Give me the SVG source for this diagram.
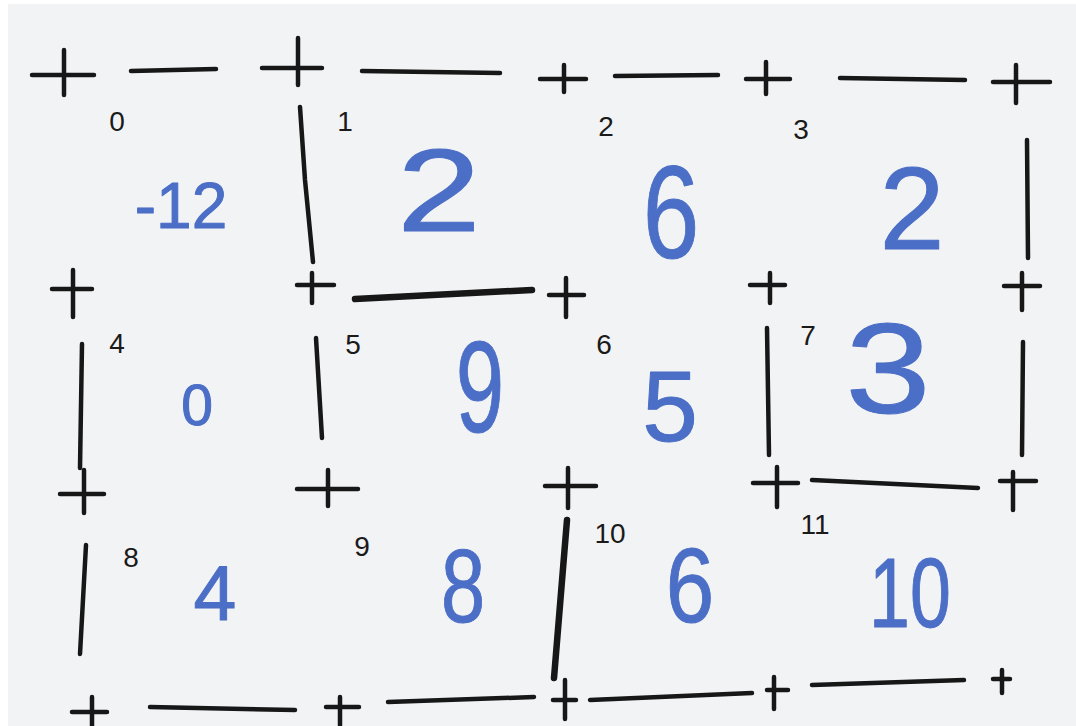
<svg xmlns="http://www.w3.org/2000/svg" width="1076" height="726" viewBox="0 0 1076 726">
<style>
.bg{fill:#f2f3f5}
.w{fill:none;stroke:#171717;stroke-width:4.5;stroke-linecap:round;stroke-linejoin:round}
.wt{stroke-width:6.5}
.idx{font-family:"Liberation Sans",Arial,sans-serif;font-size:28px;fill:#1a1a1a;text-anchor:middle}
.val{font-family:"Liberation Sans",Arial,sans-serif;fill:#4b6ec6;stroke:#4b6ec6;stroke-width:1;stroke-linejoin:round;text-anchor:middle}
</style>
<rect x="0" y="0" width="1076" height="726" fill="#ffffff"/>
<rect class="bg" x="8" y="4" width="1068" height="722"/>
<g id="walls">
  <path class="w" d="M32 75 H94 M64 50 V95"/>
  <path class="w" d="M131 71 L216 69"/>
  <path class="w" d="M262 68 H322 M298 38 V85"/>
  <path class="w" d="M362 71 L500 73"/>
  <path class="w" d="M540 79 H586 M564 65 V92"/>
  <path class="w" d="M615 76 L718 75"/>
  <path class="w" d="M746 79 H790 M766 62 V94"/>
  <path class="w" d="M840 78 L965 80"/>
  <path class="w" d="M993 82 H1050 M1016 65 V103"/>
  <path class="w" d="M300 107 L305 180 L313 262"/>
  <path class="w" d="M1027 140 L1028 258"/>
  <path class="w" d="M52 289 H92 M73 270 V317"/>
  <path class="w" d="M297 285 H334 M312 273 V303"/>
  <path class="w wt" d="M355 299 L532 290"/>
  <path class="w" d="M549 295 H584 M566 278 V317"/>
  <path class="w" d="M750 285 H785 M770 273 V303"/>
  <path class="w" d="M1004 286 H1040 M1022 273 V310"/>
  <path class="w" d="M82 344 L80 468"/>
  <path class="w" d="M316 338 L322 438"/>
  <path class="w" d="M767 328 L769 455"/>
  <path class="w" d="M1023 342 L1022 455"/>
  <path class="w" d="M60 494 H104 M84 470 V513"/>
  <path class="w" d="M297 489 H358 M328 470 V506"/>
  <path class="w" d="M545 486 H596 M568 468 V508"/>
  <path class="w" d="M753 483 H798 M777 467 V507"/>
  <path class="w" d="M812 480 L978 488"/>
  <path class="w" d="M1000 481 H1036 M1013 472 V510"/>
  <path class="w" d="M86 545 L80 654"/>
  <path class="w wt" d="M567 520 L554 678"/>
  <path class="w" d="M72 712 H107 M92 697 V726"/>
  <path class="w" d="M150 707 L295 710"/>
  <path class="w" d="M326 707 H359 M340 697 V725"/>
  <path class="w" d="M388 702 L534 697"/>
  <path class="w" d="M553 700 H576 M565 680 V719"/>
  <path class="w" d="M590 700 L752 693"/>
  <path class="w" d="M767 690 H788 M774 677 V709"/>
  <path class="w" d="M812 685 L964 680"/>
  <path class="w" d="M993 679 H1010 M1002 670 V693"/>
</g>
<g id="cell-0"><text class="idx" x="117" y="131">0</text><text class="val" x="181" y="228" font-size="64">-12</text></g>
<g id="cell-1"><text class="idx" x="345" y="131">1</text><text class="val" transform="translate(439 231) scale(1.3 1)" font-size="116">2</text></g>
<g id="cell-2"><text class="idx" x="606" y="136">2</text><text class="val" transform="translate(671 258) scale(0.77 1)" font-size="132">6</text></g>
<g id="cell-3"><text class="idx" x="801" y="139">3</text><text class="val" x="912" y="249" font-size="117">2</text></g>
<g id="cell-4"><text class="idx" x="117" y="353">4</text><text class="val" x="197" y="425" font-size="57">0</text></g>
<g id="cell-5"><text class="idx" x="353" y="354">5</text><text class="val" transform="translate(480 432) scale(0.67 1)" font-size="130">9</text></g>
<g id="cell-6"><text class="idx" x="604" y="354">6</text><text class="val" x="670" y="441" font-size="100">5</text></g>
<g id="cell-7"><text class="idx" x="808" y="345">7</text><text class="val" transform="translate(888 413) scale(1.2 1)" font-size="128">3</text></g>
<g id="cell-8"><text class="idx" x="131" y="567">8</text><text class="val" x="215" y="620" font-size="77">4</text></g>
<g id="cell-9"><text class="idx" x="362" y="556">9</text><text class="val" transform="translate(463 622) scale(0.77 1)" font-size="103">8</text></g>
<g id="cell-10"><text class="idx" x="610" y="543">10</text><text class="val" transform="translate(690 622) scale(0.83 1)" font-size="105">6</text></g>
<g id="cell-11"><text class="idx" x="815" y="534">11</text><text class="val" transform="translate(910 627) scale(0.75 1)" font-size="98">10</text></g>
</svg>
